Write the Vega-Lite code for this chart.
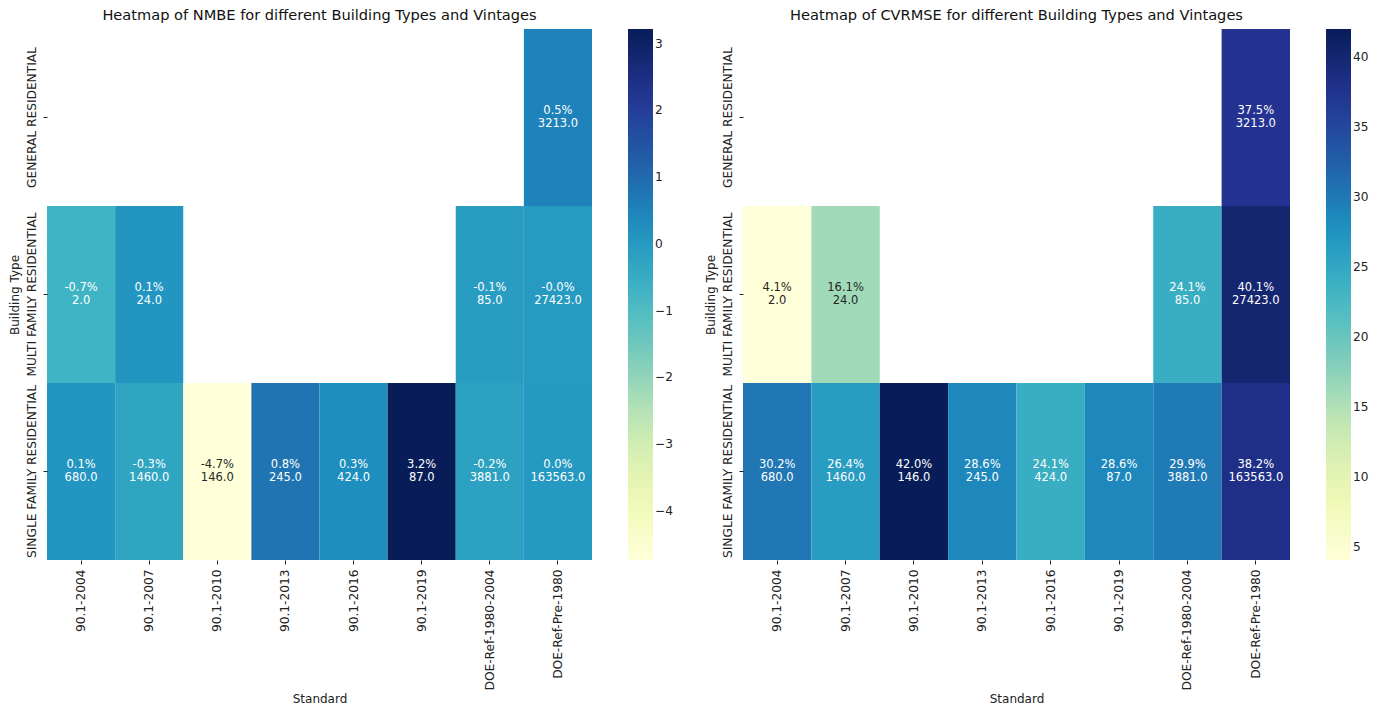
{
  "$schema": "https://vega.github.io/schema/vega-lite/v6.json",
  "padding": {"left": 7, "top": 8, "right": 5, "bottom": 5},
  "config": {
    "font": "DejaVu Sans",
    "view": {"stroke": null},
    "axis": {"labelFont": "DejaVu Sans", "labelFontSize": 12.2, "labelColor": "#222222", "titleFont": "DejaVu Sans", "titleFontSize": 12, "titleFontWeight": "normal", "titleColor": "#222222", "tickColor": "#222222", "tickSize": 4, "domain": false, "grid": false, "labelPadding": 5},
    "legend": {"labelFont": "DejaVu Sans", "labelFontSize": 12.2, "labelColor": "#222222", "gradientLength": 531, "gradientThickness": 25, "offset": 36, "labelOffset": 15, "gradientStrokeWidth": 0},
    "title": {"font": "DejaVu Sans", "fontSize": 14.6, "fontWeight": "normal", "color": "#111111", "offset": 6, "frame": "group", "anchor": "middle"}
  },
  "datasets": {
    "cells": [
      {"Building Type": "GENERAL RESIDENTIAL", "Standard": "DOE-Ref-Pre-1980", "NMBE": 0.5, "NMBE label": "0.5%", "CVRMSE": 37.5, "CVRMSE label": "37.5%", "Count": 3213},
      {"Building Type": "MULTI FAMILY RESIDENTIAL", "Standard": "90.1-2004", "NMBE": -0.7, "NMBE label": "-0.7%", "CVRMSE": 4.1, "CVRMSE label": "4.1%", "Count": 2},
      {"Building Type": "MULTI FAMILY RESIDENTIAL", "Standard": "90.1-2007", "NMBE": 0.1, "NMBE label": "0.1%", "CVRMSE": 16.1, "CVRMSE label": "16.1%", "Count": 24},
      {"Building Type": "MULTI FAMILY RESIDENTIAL", "Standard": "DOE-Ref-1980-2004", "NMBE": -0.1, "NMBE label": "-0.1%", "CVRMSE": 24.1, "CVRMSE label": "24.1%", "Count": 85},
      {"Building Type": "MULTI FAMILY RESIDENTIAL", "Standard": "DOE-Ref-Pre-1980", "NMBE": -0.02, "NMBE label": "-0.0%", "CVRMSE": 40.1, "CVRMSE label": "40.1%", "Count": 27423},
      {"Building Type": "SINGLE FAMILY RESIDENTIAL", "Standard": "90.1-2004", "NMBE": 0.1, "NMBE label": "0.1%", "CVRMSE": 30.2, "CVRMSE label": "30.2%", "Count": 680},
      {"Building Type": "SINGLE FAMILY RESIDENTIAL", "Standard": "90.1-2007", "NMBE": -0.3, "NMBE label": "-0.3%", "CVRMSE": 26.4, "CVRMSE label": "26.4%", "Count": 1460},
      {"Building Type": "SINGLE FAMILY RESIDENTIAL", "Standard": "90.1-2010", "NMBE": -4.74, "NMBE label": "-4.7%", "CVRMSE": 42.0, "CVRMSE label": "42.0%", "Count": 146},
      {"Building Type": "SINGLE FAMILY RESIDENTIAL", "Standard": "90.1-2013", "NMBE": 0.8, "NMBE label": "0.8%", "CVRMSE": 28.6, "CVRMSE label": "28.6%", "Count": 245},
      {"Building Type": "SINGLE FAMILY RESIDENTIAL", "Standard": "90.1-2016", "NMBE": 0.3, "NMBE label": "0.3%", "CVRMSE": 24.1, "CVRMSE label": "24.1%", "Count": 424},
      {"Building Type": "SINGLE FAMILY RESIDENTIAL", "Standard": "90.1-2019", "NMBE": 3.22, "NMBE label": "3.2%", "CVRMSE": 28.6, "CVRMSE label": "28.6%", "Count": 87},
      {"Building Type": "SINGLE FAMILY RESIDENTIAL", "Standard": "DOE-Ref-1980-2004", "NMBE": -0.2, "NMBE label": "-0.2%", "CVRMSE": 29.9, "CVRMSE label": "29.9%", "Count": 3881},
      {"Building Type": "SINGLE FAMILY RESIDENTIAL", "Standard": "DOE-Ref-Pre-1980", "NMBE": 0.02, "NMBE label": "0.0%", "CVRMSE": 38.2, "CVRMSE label": "38.2%", "Count": 163563}
    ]
  },
  "spacing": 30,
  "resolve": {"scale": {"color": "independent"}},
  "hconcat": [
    {
      "title": "Heatmap of NMBE for different Building Types and Vintages",
      "width": 545,
      "height": 531,
      "data": {"name": "cells"},
      "encoding": {
        "x": {"field": "Standard", "type": "nominal", "sort": ["90.1-2004", "90.1-2007", "90.1-2010", "90.1-2013", "90.1-2016", "90.1-2019", "DOE-Ref-1980-2004", "DOE-Ref-Pre-1980"], "scale": {"paddingInner": 0, "paddingOuter": 0}, "axis": {"labelAngle": -90, "title": "Standard"}},
        "y": {"field": "Building Type", "type": "nominal", "sort": ["GENERAL RESIDENTIAL", "MULTI FAMILY RESIDENTIAL", "SINGLE FAMILY RESIDENTIAL"], "scale": {"paddingInner": 0, "paddingOuter": 0}, "axis": {"labelAngle": -90, "labelAlign": "center", "labelBaseline": "bottom", "title": "Building Type"}}
      },
      "layer": [
        {
          "mark": {"type": "rect"},
          "encoding": {
            "color": {"field": "NMBE", "type": "quantitative", "scale": {"range": ["#ffffd9", "#edf8b1", "#c7e9b4", "#7fcdbb", "#41b6c4", "#1d91c0", "#225ea8", "#253494", "#081d58"], "interpolate": "rgb"}, "legend": {"title": null, "values": [-4, -3, -2, -1, 0, 1, 2, 3], "direction": "vertical"}}
          }
        },
        {
          "mark": {"type": "text", "dy": -6.5, "fontSize": 11.5},
          "encoding": {
            "text": {"field": "NMBE label", "type": "nominal"},
            "color": {"condition": {"test": "datum.NMBE < -2", "value": "#262626"}, "value": "#ffffff"}
          }
        },
        {
          "mark": {"type": "text", "dy": 6.5, "fontSize": 11.5},
          "encoding": {
            "text": {"field": "Count", "type": "quantitative", "format": ".1f"},
            "color": {"condition": {"test": "datum.NMBE < -2", "value": "#262626"}, "value": "#ffffff"}
          }
        }
      ]
    },
    {
      "title": "Heatmap of CVRMSE for different Building Types and Vintages",
      "width": 547,
      "height": 531,
      "data": {"name": "cells"},
      "encoding": {
        "x": {"field": "Standard", "type": "nominal", "sort": ["90.1-2004", "90.1-2007", "90.1-2010", "90.1-2013", "90.1-2016", "90.1-2019", "DOE-Ref-1980-2004", "DOE-Ref-Pre-1980"], "scale": {"paddingInner": 0, "paddingOuter": 0}, "axis": {"labelAngle": -90, "title": "Standard"}},
        "y": {"field": "Building Type", "type": "nominal", "sort": ["GENERAL RESIDENTIAL", "MULTI FAMILY RESIDENTIAL", "SINGLE FAMILY RESIDENTIAL"], "scale": {"paddingInner": 0, "paddingOuter": 0}, "axis": {"labelAngle": -90, "labelAlign": "center", "labelBaseline": "bottom", "title": "Building Type"}}
      },
      "layer": [
        {
          "mark": {"type": "rect"},
          "encoding": {
            "color": {"field": "CVRMSE", "type": "quantitative", "scale": {"range": ["#ffffd9", "#edf8b1", "#c7e9b4", "#7fcdbb", "#41b6c4", "#1d91c0", "#225ea8", "#253494", "#081d58"], "interpolate": "rgb"}, "legend": {"title": null, "values": [5, 10, 15, 20, 25, 30, 35, 40], "direction": "vertical"}}
          }
        },
        {
          "mark": {"type": "text", "dy": -6.5, "fontSize": 11.5},
          "encoding": {
            "text": {"field": "CVRMSE label", "type": "nominal"},
            "color": {"condition": {"test": "datum.CVRMSE < 18", "value": "#262626"}, "value": "#ffffff"}
          }
        },
        {
          "mark": {"type": "text", "dy": 6.5, "fontSize": 11.5},
          "encoding": {
            "text": {"field": "Count", "type": "quantitative", "format": ".1f"},
            "color": {"condition": {"test": "datum.CVRMSE < 18", "value": "#262626"}, "value": "#ffffff"}
          }
        }
      ]
    }
  ]
}
